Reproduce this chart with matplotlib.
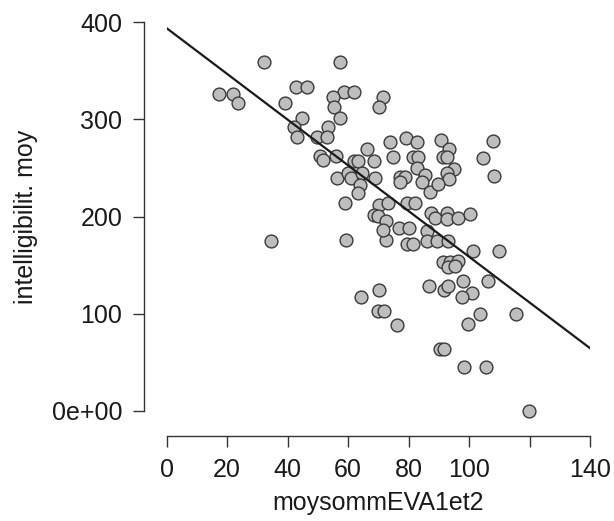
import numpy as np
import matplotlib
matplotlib.use("Agg")
import matplotlib.pyplot as plt

plt.rcParams['font.family'] = ['Liberation Sans', 'DejaVu Sans']

# values
moysomm = [17.3, 21.9, 23.6, 32.2, 39.1, 42.8, 46.4, 44.7, 42.1, 43.1,
           57.3, 58.6, 61.9, 55.0, 55.3, 57.3, 71.5, 70.2, 53.3, 49.7,
           53.0, 73.8, 79.1, 82.8, 66.2, 50.7, 51.7, 56.0, 61.9, 63.3,
           68.6, 74.8, 81.5, 83.1, 82.8, 56.3, 59.9, 60.9, 64.6, 68.9,
           77.2, 78.8, 77.2, 85.4, 84.4, 63.9, 63.3, 87.1, 59.0, 70.2,
           73.2, 79.5, 82.1, 68.6, 69.9, 72.5, 76.8, 80.1, 90.7, 93.4,
           107.9, 104.6, 108.2, 91.4, 92.7, 95.0, 92.7, 93.4, 89.7, 87.4,
           88.7, 92.7, 92.7, 96.3, 100.3, 86.1, 59.3, 72.5, 71.5, 79.5,
           81.5, 86.1, 89.4, 93.0, 101.3, 109.9, 91.4, 93.7, 96.3, 93.0,
           95.3, 86.7, 91.7, 93.0, 98.0, 106.3, 101.0, 97.7, 103.6, 115.5,
           99.6, 90.4, 91.7, 98.3, 105.6, 119.8, 34.5, 70.2, 64.2, 69.9,
           71.8, 76.1]
intellig = [325.8, 325.8, 316.5, 358.7, 316.5, 333.0, 333.0, 301.1, 291.9, 281.6,
            358.7, 327.9, 327.9, 322.7, 312.4, 301.1, 322.7, 312.4, 291.9, 281.6,
            281.6, 276.5, 280.6, 276.5, 269.3, 262.1, 258.0, 262.1, 256.9, 256.9,
            256.9, 261.0, 261.0, 261.0, 249.7, 239.5, 244.6, 239.5, 244.6, 239.5,
            240.5, 240.5, 235.4, 242.5, 235.4, 232.3, 224.0, 225.1, 213.8, 211.7,
            213.8, 213.8, 213.8, 201.4, 200.4, 195.3, 188.1, 188.1, 278.5, 269.3,
            277.5, 260.0, 241.5, 261.0, 261.0, 248.7, 244.6, 238.4, 233.3, 203.5,
            198.4, 203.5, 197.3, 198.4, 202.5, 185.0, 175.7, 175.7, 186.0, 171.6,
            171.6, 174.7, 174.7, 174.7, 164.4, 164.4, 153.1, 153.1, 154.2, 148.0,
            149.0, 128.5, 124.4, 128.5, 133.6, 133.6, 121.3, 117.2, 99.7, 99.7,
            89.4, 63.7, 63.7, 45.2, 45.2, 0.0, 174.7, 124.4, 117.2, 102.8,
            102.8, 88.4]

# regression line (abline coefficients)
line_intercept = 393.6
line_slope = -2.35
line_x = [0, 140]

x_ticks = [0, 20, 40, 60, 80, 100, 120, 140]
x_tick_labels = ['0', '20', '40', '60', '80', '100', '', '140']
y_ticks = [0, 100, 200, 300, 400]
y_tick_labels = ['0e+00', '100', '200', '300', '400']

fig = plt.figure(figsize=(6.14, 5.21), dpi=100)
ax = fig.add_axes([166.7 / 614, 110 / 521, (590 - 166.7) / 614, (499 - 110) / 521])

ax.scatter(moysomm, intellig, s=85, facecolor='#bebebe', edgecolor='#3a3a3a',
           linewidths=1.0, clip_on=False, zorder=3)

xl = np.array(line_x)
ax.plot(xl, line_intercept + line_slope * xl, color='#1a1a1a', lw=1.6, zorder=4)

ax.set_xlim(0, 140)
ax.set_ylim(0, 400)
for s in ['top', 'right']:
    ax.spines[s].set_visible(False)
ax.spines['left'].set_position(('outward', 16))
ax.spines['bottom'].set_position(('outward', 18))
ax.spines['left'].set_bounds(0, 400)
ax.spines['bottom'].set_bounds(0, 140)
for s in ['left', 'bottom']:
    ax.spines[s].set_linewidth(1.0)
    ax.spines[s].set_color('#333333')

ax.set_xticks(x_ticks)
ax.set_xticklabels(x_tick_labels)
ax.set_yticks(y_ticks)
ax.set_yticklabels(y_tick_labels)
ax.tick_params(length=8, width=1.0, color='#333333', labelsize=18,
               labelcolor='#1a1a1a', pad=8)

ax.set_xlabel('moysommEVA1et2', fontsize=18, color='#1a1a1a', labelpad=6)
ax.set_ylabel('intelligibilit. moy', fontsize=18, color='#1a1a1a', labelpad=10)

fig.savefig('out.png', dpi=100)
